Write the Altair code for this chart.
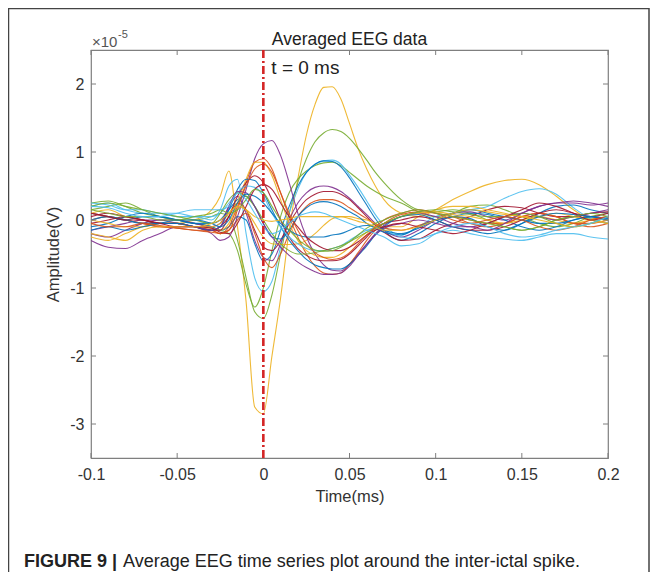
import altair as alt
import pandas as pd

# ---------------- data (amplitude in units of 1e-5 V) ----------------
time = [-0.1, -0.09, -0.08, -0.07, -0.06, -0.05, -0.04, -0.03,
        -0.025, -0.02, -0.015, -0.01, -0.005, 0.0,
        0.005, 0.01, 0.015, 0.02, 0.025, 0.03, 0.035,
        0.04, 0.045, 0.05, 0.055, 0.06, 0.065, 0.07,
        0.08, 0.09, 0.1, 0.11, 0.12, 0.13, 0.14, 0.15, 0.16, 0.17, 0.18, 0.19, 0.2]

ch01 = [0.10, 0.15, 0.05, 0.00, -0.05, -0.05, 0.00, 0.15,
        0.35, 0.72, -0.10, -1.20, -2.75, -2.85,
        -2.00, -1.15, -0.15, 0.60, 1.25, 1.70, 1.95,
        1.96, 1.78, 1.42, 1.05, 0.75, 0.50, 0.30,
        0.10, 0.05, 0.15, 0.30, 0.42, 0.52, 0.58, 0.60, 0.52, 0.35, 0.15, 0.02, 0.05]
ch02 = [0.25, 0.28, 0.20, 0.10, 0.05, 0.00, 0.00, 0.05,
        0.10, 0.05, -0.30, -0.85, -1.35, -1.45,
        -1.10, -0.50, 0.10, 0.55, 0.90, 1.15, 1.28,
        1.33, 1.30, 1.20, 1.05, 0.88, 0.70, 0.55,
        0.30, 0.15, 0.12, 0.15, 0.10, 0.00, -0.10, -0.15, -0.10, 0.00, 0.05, 0.00, -0.05]
ch03 = [0.15, 0.20, 0.25, 0.15, 0.05, 0.00, -0.05, -0.10,
        -0.15, -0.20, -0.45, -0.95, -1.28, -1.00,
        -0.45, 0.05, 0.40, 0.60, 0.72, 0.80, 0.84,
        0.85, 0.80, 0.70, 0.60, 0.50, 0.42, 0.35,
        0.25, 0.12, 0.05, 0.10, 0.20, 0.22, 0.15, 0.05, -0.05, -0.10, -0.05, 0.05, 0.10]
ch04 = [0.20, 0.25, 0.15, 0.10, 0.10, 0.05, 0.05, 0.00,
        0.15, 0.50, 0.60, -0.20, -0.85, -1.05,
        -0.90, -0.40, 0.10, 0.45, 0.70, 0.82, 0.87,
        0.88, 0.82, 0.66, 0.48, 0.28, 0.08, -0.08,
        -0.22, -0.10, 0.05, 0.10, 0.15, 0.20, 0.32, 0.42, 0.46, 0.38, 0.18, 0.02, -0.05]
ch05 = [-0.10, -0.05, 0.05, 0.10, 0.05, 0.00, -0.05, -0.10,
        -0.15, -0.10, 0.05, 0.00, -0.35, -0.60,
        -0.50, -0.15, 0.20, 0.50, 0.70, 0.82, 0.87,
        0.86, 0.78, 0.62, 0.42, 0.22, 0.02, -0.15,
        -0.30, -0.20, -0.05, 0.05, 0.02, -0.10, -0.15, -0.05, 0.10, 0.20, 0.22, 0.15, 0.10]
ch06 = [-0.20, -0.25, -0.15, -0.05, 0.00, 0.00, -0.05, -0.10,
        -0.05, 0.20, 0.35, 0.10, -0.30, -0.55,
        -0.60, -0.35, 0.00, 0.25, 0.40, 0.48, 0.50,
        0.48, 0.42, 0.32, 0.20, 0.08, -0.05, -0.15,
        -0.25, -0.15, 0.00, 0.10, 0.12, 0.05, 0.00, 0.10, 0.20, 0.25, 0.28, 0.25, 0.20]
ch07 = [-0.05, 0.00, 0.05, 0.00, -0.05, -0.05, -0.10, -0.15,
        -0.10, 0.05, 0.25, 0.15, -0.15, -0.40,
        -0.45, -0.30, -0.05, 0.15, 0.30, 0.38, 0.42,
        0.42, 0.38, 0.30, 0.18, 0.05, -0.08, -0.18,
        -0.30, -0.28, -0.15, -0.05, 0.05, 0.15, 0.20, 0.18, 0.10, 0.05, 0.05, 0.10, 0.12]
ch08 = [0.00, 0.05, 0.00, -0.05, -0.10, -0.10, -0.10, -0.15,
        -0.20, -0.15, 0.00, 0.10, -0.20, -0.55,
        -0.70, -0.50, -0.20, 0.05, 0.20, 0.28, 0.30,
        0.30, 0.26, 0.18, 0.10, 0.02, -0.06, -0.12,
        -0.15, -0.08, 0.00, 0.05, 0.00, -0.05, -0.05, 0.05, 0.10, 0.05, -0.05, -0.10, -0.05]
ch09 = [-0.25, -0.30, -0.20, -0.10, -0.05, -0.05, -0.10, -0.10,
        -0.05, 0.10, 0.25, 0.15, -0.05, -0.25,
        -0.35, -0.36, -0.36, -0.35, -0.30, -0.20, -0.08,
        0.02, 0.05, 0.05, 0.02, 0.00, -0.05, -0.10,
        -0.10, 0.05, 0.15, 0.20, 0.20, 0.15, 0.10, 0.05, 0.05, 0.00, -0.05, 0.00, 0.05]
ch10 = [0.10, 0.05, 0.00, 0.05, 0.05, 0.00, -0.05, -0.05,
        0.00, 0.15, 0.30, 0.35, 0.20, -0.05,
        -0.25, -0.28, -0.15, 0.05, 0.18, 0.25, 0.27,
        0.25, 0.20, 0.12, 0.05, -0.05, -0.12, -0.18,
        -0.22, -0.10, 0.00, 0.05, 0.10, 0.08, 0.00, -0.10, -0.15, -0.10, 0.00, 0.05, 0.02]
ch11 = [-0.15, -0.10, -0.05, 0.00, 0.00, -0.05, -0.10, -0.20,
        -0.30, -0.25, 0.05, 0.45, 0.90, 1.12,
        1.17, 0.95, 0.55, 0.10, -0.25, -0.50, -0.66,
        -0.74, -0.75, -0.65, -0.50, -0.35, -0.20, -0.08,
        0.05, 0.10, 0.05, -0.05, -0.10, -0.05, 0.05, 0.10, 0.05, 0.00, 0.05, 0.10, 0.15]
ch12 = [0.10, 0.05, 0.00, -0.05, -0.10, -0.12, -0.15, -0.15,
        -0.20, -0.15, 0.15, 0.55, 0.85, 0.90,
        0.75, 0.40, 0.05, -0.25, -0.50, -0.68, -0.78,
        -0.80, -0.78, -0.65, -0.48, -0.30, -0.15, -0.05,
        0.08, 0.12, 0.10, 0.05, -0.05, -0.10, -0.05, 0.05, 0.10, 0.05, -0.05, -0.05, 0.00]
ch13 = [0.00, -0.05, -0.10, -0.10, -0.05, -0.05, -0.10, -0.12,
        -0.15, -0.05, 0.25, 0.60, 0.85, 0.85,
        0.65, 0.30, -0.05, -0.30, -0.45, -0.52, -0.55,
        -0.55, -0.50, -0.40, -0.28, -0.18, -0.10, -0.05,
        0.05, 0.10, 0.12, 0.08, 0.05, 0.00, -0.05, 0.00, 0.05, 0.10, 0.05, 0.00, -0.05]
ch14 = [0.05, 0.10, 0.05, 0.00, -0.05, -0.05, -0.10, -0.15,
        -0.15, 0.05, 0.35, 0.55, 0.65, 0.55,
        0.30, 0.00, -0.25, -0.42, -0.52, -0.58, -0.60,
        -0.60, -0.58, -0.50, -0.38, -0.25, -0.12, -0.05,
        0.00, 0.05, 0.00, -0.10, -0.15, -0.15, -0.10, 0.00, 0.10, 0.15, 0.10, 0.05, 0.10]
ch15 = [0.00, 0.05, 0.00, -0.05, -0.05, -0.05, -0.10, -0.15,
        -0.10, 0.15, 0.45, 0.60, 0.58, 0.40,
        0.15, -0.10, -0.30, -0.45, -0.58, -0.66, -0.70,
        -0.72, -0.72, -0.65, -0.52, -0.38, -0.22, -0.10,
        0.05, 0.08, 0.00, -0.10, -0.15, -0.20, -0.15, -0.05, 0.05, 0.10, 0.08, 0.05, 0.00]
ch16 = [0.25, 0.22, 0.15, 0.15, 0.10, 0.10, 0.05, 0.05,
        0.10, 0.25, 0.40, 0.50, 0.48, 0.35,
        0.10, -0.10, -0.25, -0.35, -0.42, -0.45, -0.45,
        -0.42, -0.38, -0.30, -0.22, -0.15, -0.12, -0.15,
        -0.25, -0.28, -0.20, -0.15, -0.20, -0.25, -0.28, -0.30, -0.25, -0.20, -0.20, -0.25, -0.28]
ch17 = [0.20, 0.25, 0.20, 0.15, 0.10, 0.05, 0.00, -0.05,
        0.10, 0.30, 0.40, 0.35, 0.20, 0.00,
        -0.20, -0.35, -0.45, -0.50, -0.50, -0.48, -0.45,
        -0.42, -0.38, -0.32, -0.25, -0.18, -0.12, -0.05,
        0.05, 0.12, 0.15, 0.12, 0.08, 0.05, 0.05, 0.10, 0.05, -0.05, -0.10, -0.05, 0.05]
ch18 = [-0.30, -0.40, -0.42, -0.30, -0.20, -0.10, -0.10, -0.15,
        -0.10, 0.20, 0.42, 0.40, 0.20, -0.05,
        -0.25, -0.40, -0.52, -0.62, -0.70, -0.76, -0.80,
        -0.80, -0.78, -0.68, -0.52, -0.36, -0.22, -0.12,
        -0.05, 0.00, -0.05, -0.10, -0.10, -0.15, -0.05, 0.10, 0.20, 0.25, 0.25, 0.22, 0.25]
ch19 = [-0.15, -0.10, -0.15, -0.10, -0.05, 0.00, 0.00, -0.05,
        -0.10, 0.00, 0.25, 0.38, 0.35, 0.25,
        0.10, -0.05, -0.15, -0.22, -0.25, -0.25, -0.25,
        -0.22, -0.20, -0.15, -0.10, -0.08, -0.10, -0.15,
        -0.20, -0.12, 0.00, 0.10, 0.15, 0.10, 0.05, 0.00, -0.05, -0.05, 0.00, 0.05, 0.00]
ch20 = [0.10, 0.05, 0.00, 0.00, -0.05, -0.10, -0.10, -0.12,
        -0.18, -0.20, -0.05, 0.20, 0.45, 0.52,
        0.45, 0.25, 0.05, -0.10, -0.25, -0.35, -0.42,
        -0.45, -0.45, -0.40, -0.32, -0.22, -0.15, -0.10,
        -0.05, -0.10, -0.15, -0.20, -0.15, -0.05, 0.05, 0.15, 0.25, 0.20, 0.10, 0.00, 0.05]
ch21 = [-0.05, -0.10, -0.10, -0.05, -0.08, -0.12, -0.15, -0.18,
        -0.20, -0.10, 0.20, 0.50, 0.75, 0.82,
        0.70, 0.40, 0.10, -0.15, -0.35, -0.48, -0.55,
        -0.58, -0.56, -0.48, -0.35, -0.22, -0.10, 0.00,
        0.10, 0.15, 0.10, 0.00, -0.05, 0.00, 0.05, 0.00, -0.10, -0.15, -0.10, 0.00, 0.05]
ch22 = [0.15, 0.10, 0.05, 0.05, 0.00, 0.00, 0.05, 0.10,
        0.15, 0.10, 0.15, 0.30, 0.45, 0.40,
        0.20, 0.00, -0.15, -0.28, -0.38, -0.44, -0.46,
        -0.45, -0.40, -0.32, -0.22, -0.12, -0.05, 0.00,
        0.10, 0.15, 0.10, 0.05, 0.00, -0.05, -0.10, -0.15, -0.10, 0.00, 0.05, 0.10, 0.05]
ch23 = [-0.20, -0.25, -0.30, -0.15, -0.10, -0.10, -0.10, -0.05,
        0.00, 0.10, 0.20, 0.15, 0.05, 0.00,
        -0.02, 0.00, 0.02, 0.05, 0.05, 0.05, 0.05,
        0.05, 0.05, 0.02, -0.02, -0.05, -0.10, -0.15,
        -0.15, -0.10, 0.00, 0.10, 0.15, 0.12, 0.08, 0.05, 0.00, -0.05, -0.10, -0.05, 0.00]
ch24 = [0.20, 0.18, 0.10, 0.05, 0.05, 0.10, 0.15, 0.15,
        0.15, 0.20, 0.40, 0.30, 0.10, -0.10,
        -0.20, -0.15, -0.05, 0.05, 0.10, 0.12, 0.10,
        0.05, 0.00, -0.05, -0.10, -0.15, -0.20, -0.25,
        -0.38, -0.35, -0.20, -0.10, -0.05, -0.10, -0.20, -0.25, -0.22, -0.15, -0.10, -0.05, 0.05]

series = [ch01, ch02, ch03, ch04, ch05, ch06, ch07, ch08, ch09, ch10, ch11, ch12,
          ch13, ch14, ch15, ch16, ch17, ch18, ch19, ch20, ch21, ch22, ch23, ch24]
names = ["ch%02d" % (i + 1) for i in range(len(series))]
colors = ["#EDB120", "#77AC30", "#77AC30", "#4DBEEE", "#0072BD", "#7E2F8E",
          "#A2142F", "#D95319", "#EDB120", "#0072BD", "#7E2F8E", "#D95319",
          "#EDB120", "#A2142F", "#0072BD", "#4DBEEE", "#77AC30", "#7E2F8E",
          "#0072BD", "#A2142F", "#D95319", "#77AC30", "#EDB120", "#4DBEEE"]

x_ticks = [-0.1, -0.05, 0, 0.05, 0.1, 0.15, 0.2]
y_ticks = [-3, -2, -1, 0, 1, 2]
marker_time = [0]
marker_label = ["t = 0 ms"]
marker_label_level = [2.23]

# ---------------- build ----------------
rows = []
for n, vals in zip(names, series):
    for t, v in zip(time, vals):
        rows.append({"ch": n, "t": t, "v": v})
df = pd.DataFrame(rows)

W, H = 517, 408
FONT = "Liberation Sans"
INK = "#333333"
BOX = "#7f7f7f"

xs = alt.Scale(domain=[-0.1, 0.2], nice=False, zero=False)
ys = alt.Scale(domain=[-3.5, 2.5], nice=False, zero=False)

x_axis = alt.Axis(
    values=x_ticks, labelExpr="'' + datum.value", ticks=False, domain=False, grid=False,
    labelFont=FONT, labelFontSize=16, labelColor=INK, labelPadding=8,
    labelFlush=False, labelOverlap=False,
    title="Time(ms)", titleFont=FONT, titleFontSize=16.5, titleFontWeight="normal",
    titleColor=INK, titlePadding=6)
y_axis = alt.Axis(
    values=y_ticks, labelExpr="'' + datum.value", ticks=False, domain=False, grid=False,
    labelFont=FONT, labelFontSize=16, labelColor=INK, labelPadding=7,
    labelOverlap=False,
    title="Amplitude(V)", titleFont=FONT, titleFontSize=16.5, titleFontWeight="normal",
    titleColor=INK, titlePadding=8)


def X(field):
    return alt.X(field, scale=xs, axis=x_axis, title="Time(ms)")


def Y(field):
    return alt.Y(field, scale=ys, axis=y_axis, title="Amplitude(V)")


lines = alt.Chart(df).mark_line(strokeWidth=1.1, interpolate="monotone", opacity=0.9).encode(
    x=X("t:Q"), y=Y("v:Q"),
    color=alt.Color("ch:N", scale=alt.Scale(domain=names, range=colors), legend=None),
)

xt = pd.DataFrame({"t": x_ticks})
yt = pd.DataFrame({"v": y_ticks})
tick_bottom = alt.Chart(xt).mark_rule(color=BOX, strokeWidth=1).encode(
    x=X("t:Q"), y=alt.value(H), y2=alt.value(H - 5))
tick_top = alt.Chart(xt).mark_rule(color=BOX, strokeWidth=1).encode(
    x=X("t:Q"), y=alt.value(0), y2=alt.value(5))
tick_left = alt.Chart(yt).mark_rule(color=BOX, strokeWidth=1).encode(
    y=Y("v:Q"), x=alt.value(0), x2=alt.value(5))
tick_right = alt.Chart(yt).mark_rule(color=BOX, strokeWidth=1).encode(
    y=Y("v:Q"), x=alt.value(W), x2=alt.value(W - 5))

mk = pd.DataFrame({"t": marker_time, "v": marker_label_level, "label": marker_label})
vline = alt.Chart(mk).mark_rule(color="#D42626", strokeWidth=2.6, strokeDash=[8, 3, 2, 3]).encode(
    x=X("t:Q"), y=alt.value(0), y2=alt.value(H))
vtext = alt.Chart(mk).mark_text(align="left", baseline="middle", dx=8, font=FONT,
                                fontSize=19, color="#222222").encode(
    x=X("t:Q"), y=Y("v:Q"), text="label:N")

one = pd.DataFrame({"a": [0]})
exp_base = alt.Chart(one).mark_text(align="left", baseline="middle", font=FONT, fontSize=15,
                                    color="#555555", text="\u00d710").encode(
    x=alt.value(1), y=alt.value(-8))
exp_sup = alt.Chart(one).mark_text(align="left", baseline="middle", font=FONT, fontSize=11,
                                   color="#555555", text="-5").encode(
    x=alt.value(27), y=alt.value(-15))
title_txt = alt.Chart(one).mark_text(align="center", baseline="middle", font=FONT, fontSize=17.5,
                                     color="#222222", text="Averaged EEG data").encode(
    x=alt.value(W / 2), y=alt.value(-10))

frame = alt.Chart(one).mark_rect(fill="transparent", stroke="#444444", strokeWidth=1.5).encode(
    x=alt.value(-82.5), x2=alt.value(W + 41), y=alt.value(-41.5), y2=alt.value(H + 200))
cap_bold = alt.Chart(one).mark_text(align="left", baseline="alphabetic", font=FONT, fontSize=18,
                                    fontWeight="bold", color="#222222", text="FIGURE 9 |").encode(
    x=alt.value(-67), y=alt.value(517))
cap_text = alt.Chart(one).mark_text(align="left", baseline="alphabetic", font=FONT, fontSize=18,
                                    color="#222222",
                                    text="Average EEG time series plot around the inter-ictal spike.").encode(
    x=alt.value(32), y=alt.value(517))

chart = alt.layer(
    lines, frame, tick_bottom, tick_top, tick_left, tick_right, vline, vtext,
    exp_base, exp_sup, title_txt, cap_bold, cap_text
).properties(
    width=W, height=H,
    autosize=alt.AutoSizeParams(type="none"),
    padding={"left": 83, "top": 42, "right": 43, "bottom": 114},
).configure_view(stroke=BOX, strokeWidth=1.2)

chart.save("out.html", embed_options={"renderer": "svg", "actions": False})
